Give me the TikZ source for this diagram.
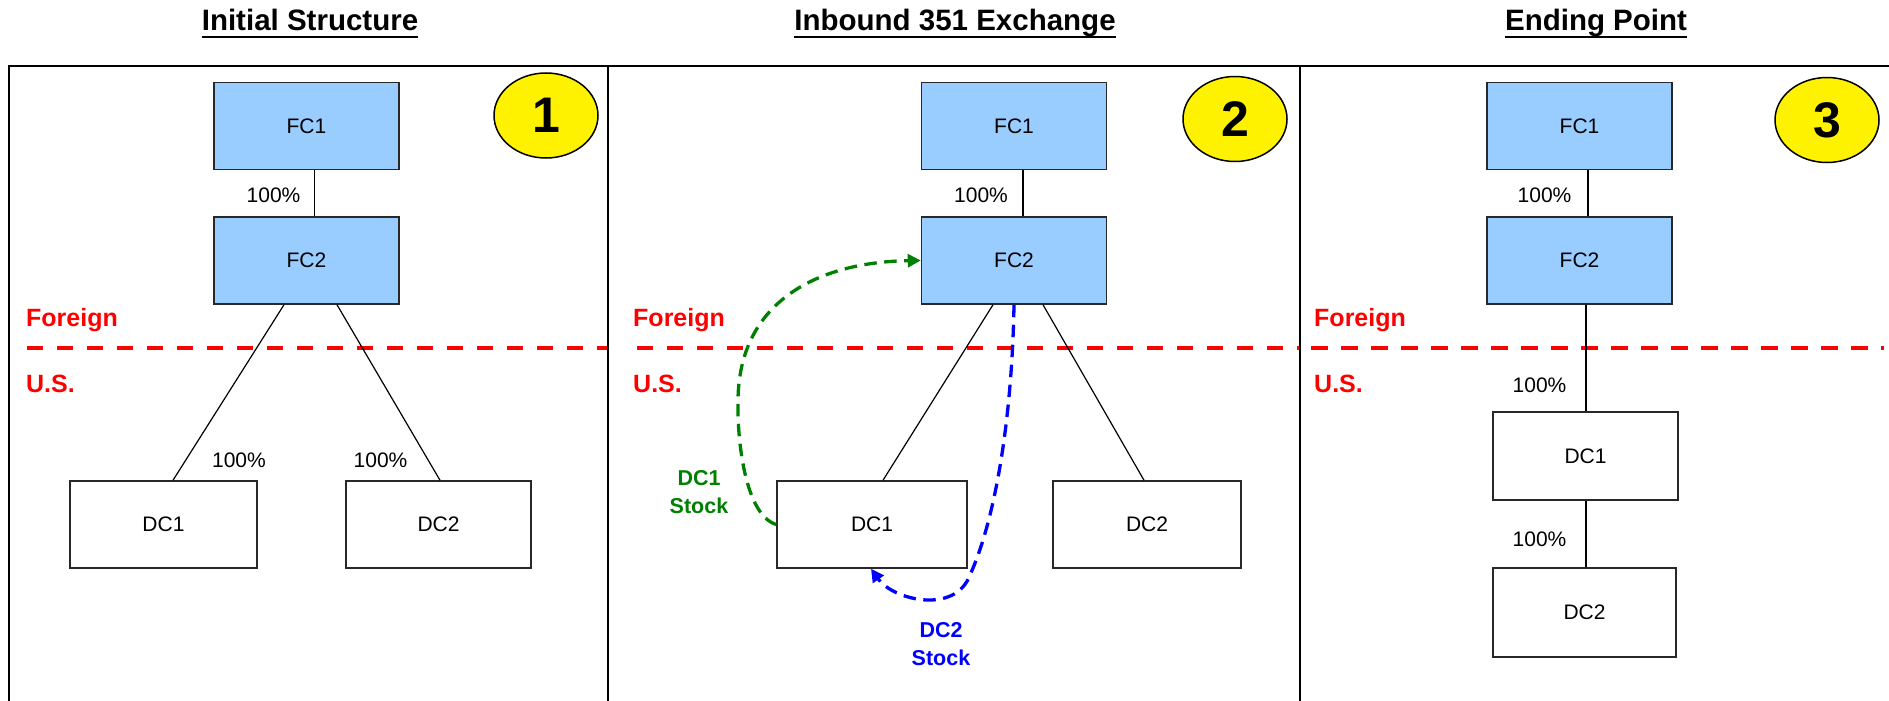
\documentclass[tikz,border=0pt]{standalone}
\usepackage{fontspec}
\setmainfont{Liberation Sans}
\usetikzlibrary{arrows.meta,shapes.geometric}
\definecolor{fcblue}{RGB}{153,204,255}
\definecolor{linered}{RGB}{255,0,0}
\definecolor{stockgreen}{RGB}{0,128,0}
\definecolor{stockblue}{RGB}{0,0,255}
\definecolor{boxedge}{RGB}{40,40,40}

\begin{document}
\begin{tikzpicture}[x=1pt,y=-1pt,
  entity/.style={draw=boxedge, line width=1.5pt, minimum height=87pt, inner sep=0pt,
    font=\fontsize{21}{25}\selectfont},
  foreignco/.style={entity, fill=fcblue, minimum width=185pt},
  usco/.style={entity, fill=white, minimum width=187pt},
  own/.style={line width=1.2pt},
  pct/.style={anchor=base, inner sep=0pt, font=\fontsize{21}{25}\selectfont},
  heading/.style={anchor=base, inner sep=0pt, font=\bfseries\fontsize{29.5}{32}\selectfont},
  badge/.style={ellipse, draw, line width=1.5pt, fill=yellow, inner sep=0pt,
    minimum width=104pt, minimum height=85pt, font=\bfseries\fontsize{50}{50}\selectfont},
  border/.style={line width=2pt},
  jurisline/.style={draw=linered, line width=4.5pt, dash pattern=on 16.7pt off 13.3pt},
  juris/.style={anchor=base west, inner sep=0pt, text=linered,
    font=\bfseries\fontsize{25}{30}\selectfont},
  stocklabel/.style={align=center, inner sep=0pt, font=\bfseries\fontsize{21.5}{28}\selectfont},
  transfer/.style={line width=3.3pt, dash pattern=on 12.5pt off 7.5pt,
    -{Triangle[length=13pt,width=13pt]}},
]
\path[use as bounding box] (0,0) rectangle (1889,701);

% column headings
\node[heading] (t1) at (310,31) {Initial Structure};
\node[heading] (t2) at (955,31) {Inbound 351 Exchange};
\node[heading] (t3) at (1596,31) {Ending Point};
\foreach \t in {t1,t2,t3}
  \draw[line width=2.5pt] ([yshift=-6pt]\t.base west) -- ([yshift=-6pt]\t.base east);

% panel frame
\draw[border] (9,701) -- (9,66) -- (1889,66);
\draw[border] (608,66) -- (608,701);
\draw[border] (1300,66) -- (1300,701);

% border between foreign and U.S. entities
\draw[jurisline] (26.7,348) -- (607,348);
\draw[jurisline] (636.5,348) -- (1299,348);
\draw[jurisline] (1311,348) -- (1884,348);

% ---------- step 1 ----------
\node[foreignco] (p1fc1) at (306.5,126) {FC1};
\node[foreignco] (p1fc2) at (306.5,260.5) {FC2};
\node[usco] (p1dc1) at (163.5,524.5) {DC1};
\node[usco, minimum width=185pt] (p1dc2) at (438.5,524.5) {DC2};
\draw[own] ([xshift=8pt]p1fc1.south) -- ([xshift=8pt]p1fc2.north);
\draw[own] ([xshift=-22.5pt]p1fc2.south) -- ([xshift=9.5pt]p1dc1.north);
\draw[own] ([xshift=30.5pt]p1fc2.south) -- ([xshift=1.5pt]p1dc2.north);
\node[pct] (p1pa) at (273.5,202) {100\%};
\node[pct] (p1pb) at (239,467) {100\%};
\node[pct] (p1pc) at (380.5,467) {100\%};
\node[badge] (p1num) at (546,115.5) {1};
\node[juris] (p1for) at (26,326) {Foreign};
\node[juris] (p1us) at (26,392) {U.S.};

% ---------- step 2 ----------
\node[foreignco] (p2fc1) at (1014,126) {FC1};
\node[foreignco] (p2fc2) at (1014,260.5) {FC2};
\node[usco, minimum width=190pt] (p2dc1) at (872,524.5) {DC1};
\node[usco, minimum width=188pt] (p2dc2) at (1147,524.5) {DC2};
\draw[own] ([xshift=9pt]p2fc1.south) -- ([xshift=9pt]p2fc2.north);
\draw[own] ([xshift=-21pt]p2fc2.south) -- ([xshift=11pt]p2dc1.north);
\draw[own] ([xshift=29pt]p2fc2.south) -- ([xshift=-3pt]p2dc2.north);
\node[pct] (p2pa) at (981,202) {100\%};
\node[badge] (p2num) at (1235,119) {2};
\node[juris] (p2for) at (633,326) {Foreign};
\node[juris] (p2us) at (633,392) {U.S.};
\draw[transfer, stockgreen] (p2dc1.west) .. controls (745,515) and (737,440) .. (738,400)
  .. controls (739,300) and (820,262) .. (p2fc2.west);
\draw[transfer, stockblue] (p2fc2.south) .. controls (1012,420) and (995,520) .. (970,575)
  .. controls (955,615) and (893,600) .. ([xshift=-1pt]p2dc1.south);
\node[stocklabel, text=stockgreen] (p2gl) at (699,492) {DC1\\Stock};
\node[stocklabel, text=stockblue] (p2bl) at (941,644) {DC2\\Stock};

% ---------- step 3 ----------
\node[foreignco] (p3fc1) at (1579.5,126) {FC1};
\node[foreignco] (p3fc2) at (1579.5,260.5) {FC2};
\node[usco, minimum width=185pt, minimum height=88pt] (p3dc1) at (1585.5,456) {DC1};
\node[usco, minimum width=183pt, minimum height=89pt] (p3dc2) at (1584.5,612.5) {DC2};
\draw[own] ([xshift=8.5pt]p3fc1.south) -- ([xshift=8.5pt]p3fc2.north);
\draw[own] ([xshift=6.5pt]p3fc2.south) -- ([xshift=0.5pt]p3dc1.north);
\draw[own] ([xshift=0.5pt]p3dc1.south) -- ([xshift=1.5pt]p3dc2.north);
\node[pct] (p3pa) at (1544.5,202) {100\%};
\node[pct] (p3pb) at (1539.5,392) {100\%};
\node[pct] (p3pc) at (1539.5,546) {100\%};
\node[badge] (p3num) at (1827,120) {3};
\node[juris] (p3for) at (1314,326) {Foreign};
\node[juris] (p3us) at (1314,392) {U.S.};
\end{tikzpicture}
\end{document}
